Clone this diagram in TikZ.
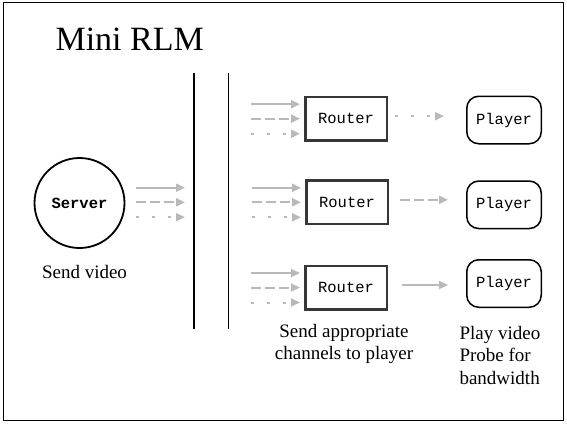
\documentclass[tikz,border=0pt]{standalone}
\usepackage{fontspec}
\setmainfont{Liberation Serif}
\setmonofont{Liberation Mono}
\usetikzlibrary{calc,arrows.meta,positioning}
\definecolor{flowgray}{RGB}{185,185,185}
\definecolor{boxgray}{RGB}{55,55,55}

\tikzset{
    flow/.style={draw=flowgray, line width=2pt, -{Triangle[length=9pt,width=8pt]}},
    solidflow/.style={flow},
    dashflow/.style={flow, dash pattern=on 10pt off 4pt},
    dotflow/.style={flow, dash pattern=on 3pt off 13pt},
    router/.style={draw=boxgray, line width=2.5pt, minimum width=81.5pt, minimum height=43.5pt,
        font=\fontsize{15.5}{18}\selectfont\ttfamily},
    player/.style={draw, line width=1.5pt, rounded corners=12pt, minimum width=74.5pt,
        minimum height=47.5pt, font=\fontsize{15.5}{18}\selectfont\ttfamily},
    caption/.style={font=\fontsize{19}{22}\selectfont}
}

\begin{document}
\begin{tikzpicture}[x=1pt,y=1pt]
        \useasboundingbox (0,0) rectangle (567,424);
        \draw[line width=1pt] (3,3.5) rectangle (563.5,421);

        \node[anchor=base west, font=\fontsize{34}{40}\selectfont] (title) at (52,373) {Mini RLM};

        % the two walls
        \coordinate (W1) at (194,351);
        \coordinate (W2) at (228.6,351);
        \draw[line width=1.2pt] (W1) -- ++(0,-256);
        \draw[line width=1.2pt] (W2) -- ++(0,-256);

        \node[circle, draw, line width=1.8pt, minimum size=90pt, inner sep=0pt,
              font=\fontsize{15.5}{18}\selectfont\ttfamily\bfseries] (srv) at (79.5,221) {Server};
        \node[caption, anchor=base] (srvtxt) at (84.5,146) {Send video};

        \coordinate (S) at (185,221.7);
        \draw[solidflow] ($(S)+(-49.4,14.6)$) -- ($(S)+(0,14.6)$);
        \draw[dashflow] ($(S)+(-49.4,0)$) -- (S);
        \draw[dotflow] ($(S)+(-49.4,-14.9)$) -- ($(S)+(0,-14.9)$);

        \node[router] (rt1) at (346,305.3) {Router};
        \node[router] (rt2) at (347,221.7) {Router};
        \node[router] (rt3) at (346,136.5) {Router};

        \node[player] (pl1) at (504,304) {Player};
        \node[player] (pl2) at (504,219.2) {Player};
        \node[player] (pl3) at (504,140.5) {Player};

        % channels into each router
        \foreach \i in {1,2,3}{
            \draw[solidflow] ($(rt\i.west)+(-53,14.5)$) -- ($(rt\i.west)+(-4,14.5)$);
            \draw[dashflow] ($(rt\i.west)+(-53,0)$) -- ($(rt\i.west)+(-4,0)$);
            \draw[dotflow] ($(rt\i.west)+(-53,-15)$) -- ($(rt\i.west)+(-4,-15)$);
        }

        % one channel out to each player
        \draw[dotflow, shorten <=7pt, shorten >=22pt] ([yshift=2.5pt]rt1.east) -- ([yshift=2.5pt]rt1.east -| pl1.west);
        \draw[dashflow, shorten <=11pt, shorten >=18pt] ([yshift=2.5pt]rt2.east) -- ([yshift=2.5pt]rt2.east -| pl2.west);
        \draw[solidflow, shorten <=14pt, shorten >=18pt] ([yshift=2.5pt]rt3.east) -- ([yshift=2.5pt]rt3.east -| pl3.west);

        \node[caption, anchor=base, align=center] (rttxt) at (344,65) {Send appropriate\\channels to player};
        \node[caption, anchor=base west, align=left, font=\fontsize{19}{22.5}\selectfont] (pltxt) at (456,40) {Play video\\Probe for\\bandwidth};
    \end{tikzpicture}
\end{document}
